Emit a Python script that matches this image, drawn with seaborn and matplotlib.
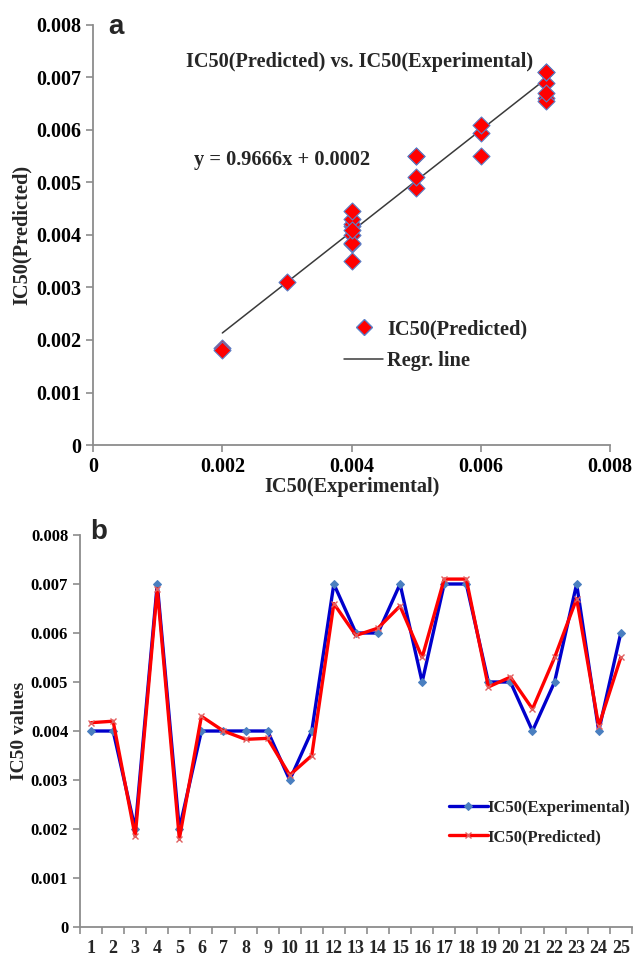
import numpy as np
import pandas as pd
import matplotlib
matplotlib.use("Agg")
import matplotlib.pyplot as plt
from matplotlib.ticker import FuncFormatter, FixedLocator
from matplotlib.lines import Line2D
import seaborn as sns

# ---- data ----
compounds = list(range(1, 26))
ic50_experimental = [0.004, 0.004, 0.002, 0.007, 0.002, 0.004, 0.004, 0.004, 0.004, 0.003,
                     0.004, 0.007, 0.006, 0.006, 0.007, 0.005, 0.007, 0.007, 0.005, 0.005,
                     0.004, 0.005, 0.007, 0.004, 0.006]
ic50_predicted = [0.00417, 0.0042, 0.00185, 0.0069, 0.0018, 0.0043, 0.0040, 0.00383, 0.00385, 0.0031,
                  0.0035, 0.0066, 0.00595, 0.0061, 0.00655, 0.0055, 0.0071, 0.0071, 0.0049, 0.0051,
                  0.00445, 0.0055, 0.0067, 0.0041, 0.0055]
slope = 0.9666
intercept = 0.0002
y_ticks = [0, 0.001, 0.002, 0.003, 0.004, 0.005, 0.006, 0.007, 0.008]
x_ticks_a = [0, 0.002, 0.004, 0.006, 0.008]

sns.set_style("ticks")
plt.rcParams['font.family'] = ['Liberation Serif', 'DejaVu Serif']
plt.rcParams['font.weight'] = 'bold'

df = pd.DataFrame({"compound": compounds, "exp": ic50_experimental, "pred": ic50_predicted})

fig = plt.figure(figsize=(6.35, 9.55), dpi=100)
axa = fig.add_axes([0.1465, 0.534, 0.8145, 0.44])
axb = fig.add_axes([0.126, 0.0293, 0.869, 0.4105])

fmt = FuncFormatter(lambda v, p: "0" if abs(v) < 1e-12 else f"{v:.3f}")
gray = "#8c8c8c"

def style(ax):
    for s in ["top", "right"]:
        ax.spines[s].set_visible(False)
    for s in ["left", "bottom"]:
        ax.spines[s].set_color(gray)
        ax.spines[s].set_linewidth(1.3)
    ax.tick_params(axis="both", colors=gray, width=1.2, length=5, direction="out",
                   labelcolor="black")
    ax.grid(False)

# ---- panel a ----
sns.scatterplot(data=df, x="exp", y="pred", ax=axa, marker="D", s=75,
                color="#ff0000", edgecolor="#5b7fc8", linewidth=0.8, zorder=3)
xr = np.array([min(ic50_experimental), max(ic50_experimental)])
sns.lineplot(x=xr, y=slope * xr + intercept, ax=axa, color="#3a3a3a", linewidth=1.1, zorder=2)
axa.set_xlim(0, 0.008)
axa.set_ylim(0, 0.008)
axa.set_xticks(x_ticks_a)
axa.set_yticks(y_ticks)
axa.xaxis.set_major_formatter(fmt)
axa.yaxis.set_major_formatter(fmt)
style(axa)
for lab in axa.get_xticklabels() + axa.get_yticklabels():
    lab.set_fontsize(14.5)
    lab.set_fontweight("bold")
axa.set_xlabel("IC50(Experimental)", fontsize=14.7, fontweight="bold", labelpad=0)
axa.set_ylabel("IC50(Predicted)", fontsize=14.7, fontweight="bold", labelpad=3)
axa.text(0.00412, 0.00729, "IC50(Predicted) vs. IC50(Experimental)", ha="center", va="center",
         fontsize=14.6, fontweight="bold")
axa.text(0.00292, 0.00543, "y = 0.9666x + 0.0002", ha="center", va="center",
         fontsize=14.7, fontweight="bold")
handles_a = [Line2D([], [], marker="D", color="none", markerfacecolor="#ff0000",
                    markeredgecolor="#5b7fc8", markersize=8, linestyle="none"),
             Line2D([], [], color="#3a3a3a", linewidth=1.1)]
axa.legend(handles_a, ["IC50(Predicted)", "Regr. line"], loc="upper left",
           bbox_to_anchor=(0.45, 0.343), frameon=False, prop={"size": 14.7, "weight": "bold"},
           handlelength=1.9, handletextpad=0.2, labelspacing=0.58)
fig.text(116 / 635, 1 - 27 / 955, "a", family="Liberation Sans", fontsize=20,
         fontweight="bold", ha="center", va="center")

# ---- panel b ----
sns.lineplot(data=df, x="compound", y="exp", ax=axb, color="#0000cc", linewidth=2.4,
             marker="D", markersize=4, markerfacecolor="#4a7fc0", markeredgecolor="#4a7fc0",
             label="IC50(Experimental)")
sns.lineplot(data=df, x="compound", y="pred", ax=axb, color="#ff0000", linewidth=2.4,
             marker="x", markersize=5, markeredgecolor="#e06060", markeredgewidth=1,
             label="IC50(Predicted)")
axb.set_xlim(0.5, 25.5)
axb.set_ylim(0, 0.008)
axb.set_yticks(y_ticks)
axb.yaxis.set_major_formatter(fmt)
axb.xaxis.set_major_locator(FixedLocator(np.arange(0.5, 25.6, 1)))
axb.xaxis.set_major_formatter(FuncFormatter(lambda v, p: ""))
axb.xaxis.set_minor_locator(FixedLocator(compounds))
axb.xaxis.set_minor_formatter(FuncFormatter(lambda v, p: f"{int(round(v))}"))
style(axb)
axb.tick_params(axis="x", which="minor", length=0, labelsize=13, pad=9)
for lab in axb.get_yticklabels():
    lab.set_fontsize(12)
    lab.set_fontweight("bold")
for lab in axb.xaxis.get_minorticklabels():
    lab.set_fontweight("bold")
axb.set_xlabel("")
axb.set_ylabel("IC50 values", fontsize=14, fontweight="bold", labelpad=2)
axb.legend(loc="upper left", bbox_to_anchor=(0.642, 0.363), frameon=False,
           prop={"size": 12, "weight": "bold"}, handlelength=2.3, handletextpad=0.0,
           labelspacing=0.8)
fig.text(99 / 635, 1 - 532 / 955, "b", family="Liberation Sans", fontsize=20,
         fontweight="bold", ha="center", va="center")

fig.savefig("out.png", dpi=100)
